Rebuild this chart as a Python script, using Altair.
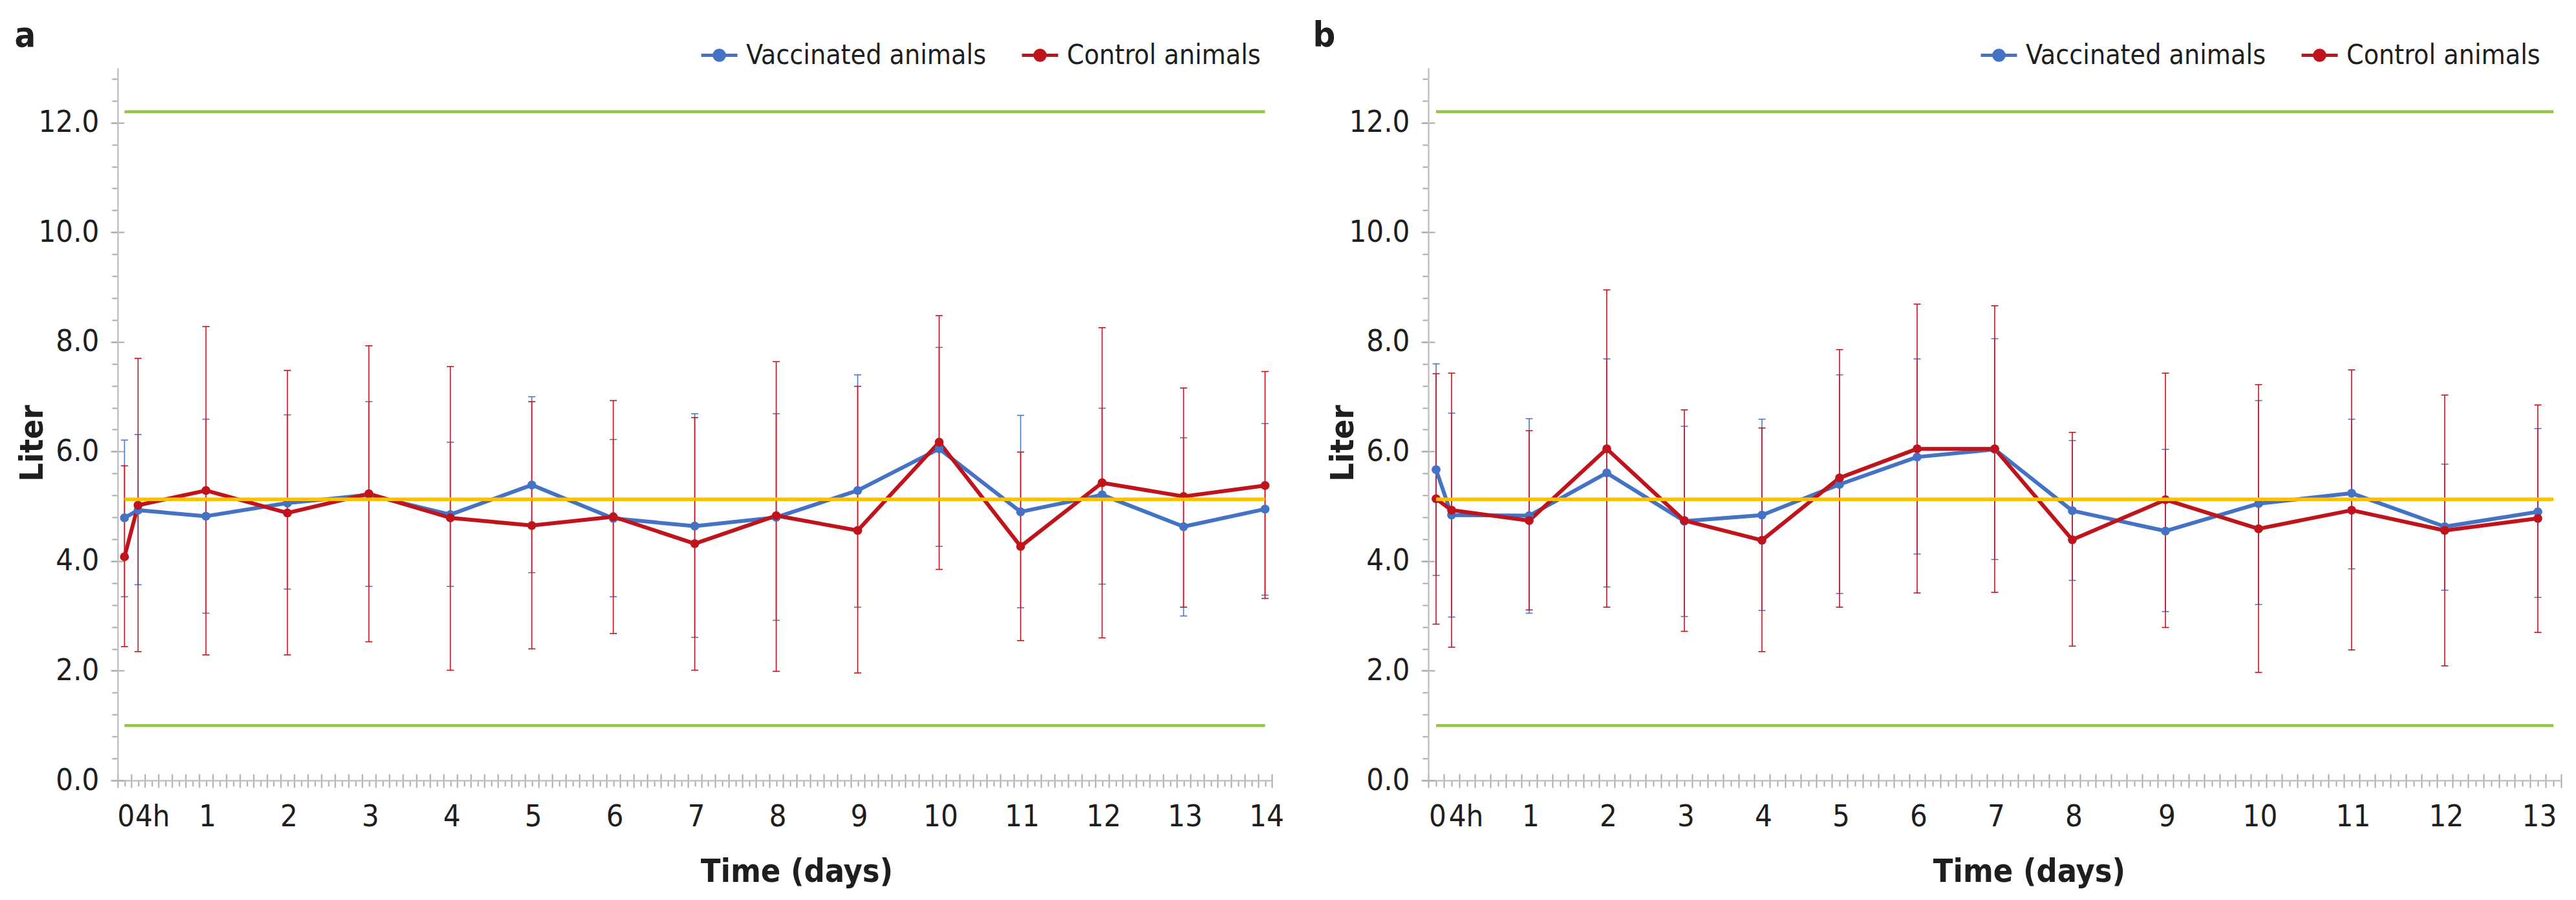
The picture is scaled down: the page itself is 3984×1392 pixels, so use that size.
import altair as alt
import pandas as pd

# ---------------- data ----------------
SERIES = ["Vaccinated animals", "Control animals"]
SERIES_COLORS = ["#4472C4", "#C0141C"]
ERROR_COLORS = ["#4A78C8", "#C0141C"]
LIMIT_COLOR = "#92C64A"
REFERENCE_COLOR = "#FFC000"
DOMAIN_COLOR = "#C2C2C2"
TICK_COLOR = "#A8A8A8"
TEXT_COLOR = "#1E1E1E"
FONT = "Liberation Sans Narrow, DejaVu Sans Condensed, Liberation Sans, sans-serif"

Y_DOMAIN = [0, 13]
Y_LABELS = [0, 2, 4, 6, 8, 10, 12]
Y_STEP = 0.4
LIMIT_LINES = [1.0, 12.2]
REFERENCE_LINE = 5.13
X_START = -2  # hours

# panel a (time in hours)
A_HOURS = [0, 4, 24, 48, 72, 96, 120, 144, 168, 192, 216, 240, 264, 288, 312, 336]
A_LABELS = ["0", "4h", "1", "2", "3", "4", "5", "6", "7", "8", "9", "10", "11", "12", "13", "14"]
A_VAC_MEAN = [4.79, 4.93, 4.82, 5.06, 5.21, 4.85, 5.39, 4.78, 4.64, 4.80, 5.29, 6.05, 4.90, 5.21, 4.63, 4.95]
A_VAC_LOW = [3.35, 3.57, 3.05, 3.49, 3.54, 3.54, 3.79, 3.35, 2.61, 2.92, 3.16, 4.27, 3.15, 3.58, 3.00, 3.38]
A_VAC_HIGH = [6.21, 6.31, 6.59, 6.67, 6.91, 6.17, 7.00, 6.22, 6.69, 6.69, 7.40, 7.90, 6.66, 6.79, 6.25, 6.51]
A_CON_MEAN = [4.08, 5.02, 5.29, 4.88, 5.23, 4.79, 4.65, 4.81, 4.32, 4.83, 4.56, 6.17, 4.27, 5.43, 5.18, 5.38]
A_CON_LOW = [2.44, 2.35, 2.29, 2.29, 2.53, 2.01, 2.40, 2.68, 2.01, 1.99, 1.96, 3.85, 2.55, 2.60, 3.16, 3.32]
A_CON_HIGH = [5.74, 7.70, 8.28, 7.48, 7.93, 7.55, 6.91, 6.93, 6.62, 7.64, 7.19, 8.48, 5.99, 8.26, 7.16, 7.46]
A_X_END = 338
A_LINE_END = 336

# panel b (time in hours)
B_HOURS = [0, 4, 24, 44, 64, 84, 104, 124, 144, 164, 188, 212, 236, 260, 284]
B_LABELS = ["0", "4h", "1", "2", "3", "4", "5", "6", "7", "8", "9", "10", "11", "12", "13"]
B_VAC_MEAN = [5.67, 4.84, 4.83, 5.61, 4.73, 4.84, 5.40, 5.90, 6.04, 4.92, 4.55, 5.05, 5.24, 4.63, 4.90]
B_VAC_LOW = [3.74, 2.98, 3.05, 3.53, 2.99, 3.10, 3.41, 4.13, 4.03, 3.65, 3.08, 3.21, 3.86, 3.47, 3.34]
B_VAC_HIGH = [7.60, 6.70, 6.60, 7.69, 6.46, 6.59, 7.40, 7.69, 8.06, 6.20, 6.04, 6.93, 6.59, 5.77, 6.42]
B_CON_MEAN = [5.14, 4.93, 4.74, 6.05, 4.74, 4.38, 5.52, 6.05, 6.05, 4.39, 5.12, 4.59, 4.93, 4.56, 4.78]
B_CON_LOW = [2.85, 2.43, 3.11, 3.16, 2.72, 2.35, 3.16, 3.42, 3.43, 2.45, 2.79, 1.97, 2.38, 2.09, 2.70]
B_CON_HIGH = [7.42, 7.43, 6.38, 8.95, 6.76, 6.43, 7.86, 8.69, 8.66, 6.35, 7.43, 7.22, 7.49, 7.03, 6.85]
B_X_END = 290
B_LINE_END = 288

PLOT_HEIGHT = 1102
LABEL_SIZE = 47
TITLE_SIZE = 50
LEGEND_SIZE = 42.5
LETTER_SIZE = 54
LEGEND_SYMBOL = "M-1,0L1,0M-0.28,0A0.28,0.28,0,1,0,0.28,0A0.28,0.28,0,1,0,-0.28,0Z"


def panel(letter, hours, labels, vac, vac_lo, vac_hi, con, con_lo, con_hi,
          x_end, line_end, px_per_hour, legend_x, title_x, letter_x):
    width = (x_end - X_START) * px_per_hour

    frames = []
    for name, m, lo, hi in ((SERIES[0], vac, vac_lo, vac_hi),
                            (SERIES[1], con, con_lo, con_hi)):
        frames.append(pd.DataFrame({"hour": hours, "series": name,
                                    "mean": m, "low": lo, "high": hi}))
    data = pd.concat(frames, ignore_index=True)
    limits = pd.DataFrame({"value": LIMIT_LINES, "start": [0] * len(LIMIT_LINES),
                           "end": [line_end] * len(LIMIT_LINES)})
    reference = pd.DataFrame({"value": [REFERENCE_LINE], "start": [0], "end": [line_end]})

    x_scale = alt.Scale(domain=[X_START, x_end], nice=False, zero=False)
    y_scale = alt.Scale(domain=Y_DOMAIN, nice=False, zero=False)

    long_ticks = list(range(X_START, x_end + 1, 4))
    short_ticks = list(range(X_START + 2, x_end, 4))
    y_ticks = [round(i * Y_STEP, 1) for i in range(int(Y_DOMAIN[1] / Y_STEP) + 1)]

    label_expr = ("[" + ",".join("'%s'" % l for l in labels) + "][indexof(["
                  + ",".join(str(h) for h in hours) + "], datum.value)]")

    x_main = alt.Axis(orient="bottom", values=hours, labelExpr=label_expr,
                      ticks=True, tickSize=0, tickWidth=0,
                      domain=True, domainColor=DOMAIN_COLOR, domainWidth=2.5,
                      grid=False, labelFont=FONT, labelFontSize=LABEL_SIZE, labelColor=TEXT_COLOR,
                      labelPadding=33, labelFlush=False, labelOverlap=False, labelBound=False,
                      labelOffset={"condition": {"test": "datum.value === 4", "value": 22}, "value": 2},
                      title="Time (days)", titleFont=FONT, titleFontSize=TITLE_SIZE,
                      titleFontWeight="bold", titleColor=TEXT_COLOR,
                      titleX=title_x, titleY=156, titleBaseline="alphabetic", titleAlign="center")
    x_long = alt.Axis(orient="bottom", values=long_ticks, labels=False, domain=False, grid=False,
                      ticks=True, tickSize=21, tickWidth=2, tickColor=TICK_COLOR, offset=-10, title=None)
    x_short = alt.Axis(orient="bottom", values=short_ticks, labels=False, domain=False, grid=False,
                       ticks=True, tickSize=9, tickWidth=2, tickColor=TICK_COLOR, title=None)
    y_main = alt.Axis(orient="left", values=y_ticks,
                      labelExpr="abs(datum.value / 2 - round(datum.value / 2)) < 0.01 ? format(datum.value, '.1f') : ''",
                      ticks=True, tickSize=9, tickWidth=2, tickColor=TICK_COLOR,
                      domain=True, domainColor=DOMAIN_COLOR, domainWidth=2.5, grid=False,
                      labelFont=FONT, labelFontSize=LABEL_SIZE, labelColor=TEXT_COLOR, labelPadding=20,
                      labelOverlap=False, labelFlush=False, labelBound=False,
                      title="Liter", titleFont=FONT, titleFontSize=TITLE_SIZE, titleFontWeight="bold",
                      titleColor=TEXT_COLOR, titleX=-117, titleY=580, titleAngle=270,
                      titleBaseline="alphabetic", titleAlign="center")
    y_major = alt.Axis(orient="left", values=Y_LABELS, labels=False, domain=False, grid=False,
                       ticks=True, tickSize=21, tickWidth=2, tickColor=TICK_COLOR, offset=-10,
                       title=letter, titleFont=FONT, titleFontSize=LETTER_SIZE, titleFontWeight="bold",
                       titleColor=TEXT_COLOR, titleAngle=0, titleAlign="left",
                       titleBaseline="alphabetic", titleX=letter_x - 10, titleY=-34)

    legend = alt.Legend(title=None, orient="none", legendX=legend_x, legendY=-50,
                        direction="horizontal", symbolType=LEGEND_SYMBOL, symbolSize=3136,
                        symbolStrokeWidth=5, symbolOpacity=1, labelFont=FONT, labelFontSize=LEGEND_SIZE,
                        labelColor=TEXT_COLOR, labelOffset=11, labelLimit=2000,
                        columnPadding=44, padding=0)

    layers = []
    layers.append(
        alt.Chart(limits).mark_rule(color=LIMIT_COLOR, strokeWidth=4.5).encode(
            x=alt.X("start:Q", scale=x_scale, axis=x_long),
            x2="end:Q",
            y=alt.Y("value:Q", scale=y_scale, axis=y_major),
        )
    )
    for i, name in enumerate(SERIES):
        sub = data[data["series"] == name]
        layers.append(
            alt.Chart(sub).mark_rule(color=ERROR_COLORS[i], strokeWidth=1.6).encode(
                x=alt.X("hour:Q", scale=x_scale, axis=x_short if i == 0 else None),
                y=alt.Y("low:Q", scale=y_scale, axis=y_main if i == 0 else None),
                y2="high:Q",
            )
        )
        layers.append(
            alt.Chart(sub).transform_fold(["low", "high"], as_=["bound", "value"])
            .mark_tick(color=ERROR_COLORS[i], orient="horizontal", size=11, thickness=1.6, opacity=1)
            .encode(
                x=alt.X("hour:Q", scale=x_scale, axis=None),
                y=alt.Y("value:Q", scale=y_scale, axis=None),
            )
        )
    for i, name in enumerate(SERIES):
        sub = data[data["series"] == name]
        layers.append(
            alt.Chart(sub).mark_line(color=SERIES_COLORS[i], strokeWidth=6, strokeJoin="round").encode(
                x=alt.X("hour:Q", scale=x_scale, axis=None),
                y=alt.Y("mean:Q", scale=y_scale, axis=None),
            )
        )
    layers.append(
        alt.Chart(data).mark_point(filled=True, size=190, opacity=1, strokeWidth=0).encode(
            x=alt.X("hour:Q", scale=x_scale, axis=x_main),
            y=alt.Y("mean:Q", scale=y_scale, axis=None),
            fill=alt.Fill("series:N", scale=alt.Scale(domain=SERIES, range=SERIES_COLORS), legend=legend),
            stroke=alt.Stroke("series:N", scale=alt.Scale(domain=SERIES, range=SERIES_COLORS), legend=legend),
        )
    )
    layers.append(
        alt.Chart(reference).mark_rule(color=REFERENCE_COLOR, strokeWidth=5.5).encode(
            x=alt.X("start:Q", scale=x_scale, axis=None),
            x2="end:Q",
            y=alt.Y("value:Q", scale=y_scale, axis=None),
        )
    )
    return alt.layer(*layers).resolve_axis(x="independent", y="independent").properties(
        width=width, height=PLOT_HEIGHT)


panel_a = panel("a", A_HOURS, A_LABELS, A_VAC_MEAN, A_VAC_LOW, A_VAC_HIGH,
                A_CON_MEAN, A_CON_LOW, A_CON_HIGH, A_X_END, A_LINE_END, 5.25,
                legend_x=900, title_x=1050, letter_x=-160)
panel_b = panel("b", B_HOURS, B_LABELS, B_VAC_MEAN, B_VAC_LOW, B_VAC_HIGH,
                B_CON_MEAN, B_CON_LOW, B_CON_HIGH, B_X_END, B_LINE_END, 6.0,
                legend_x=852, title_x=929, letter_x=-179)

chart = (
    alt.hconcat(panel_a, panel_b, spacing=44)
    .resolve_scale(x="independent", y="independent", fill="independent", stroke="independent")
    .properties(padding={"left": 14, "top": 20, "right": 4, "bottom": 4}, background="white")
    .configure_view(stroke=None)
)

chart.save("out.html", embed_options={"renderer": "svg", "actions": False})
